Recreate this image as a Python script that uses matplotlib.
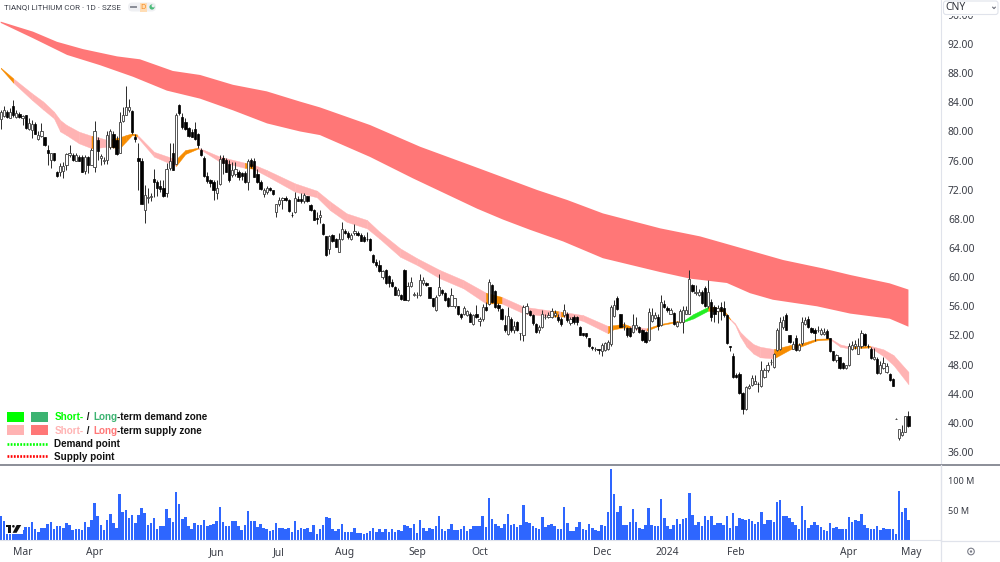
import matplotlib
matplotlib.use("Agg")
import matplotlib.pyplot as plt
import numpy as np
from matplotlib.patches import Rectangle, Circle, FancyBboxPatch, Polygon

# Daily OHLC prices (CNY)
OPENS = [
    81.7,82.1,82.7,81.9,83.5,82.0,82.4,81.9,82.2,80.3,
    80.2,81.0,79.0,79.4,79.2,77.5,76.1,77.0,74.5,74.5,
    74.6,75.4,76.8,76.8,76.0,76.5,76.5,74.6,76.5,75.4,
    75.1,78.8,76.4,75.9,76.1,77.8,79.6,78.8,77.1,81.5,
    82.2,83.0,82.8,79.2,76.3,76.0,69.2,70.8,71.0,73.5,
    73.1,72.5,72.2,71.6,75.0,77.0,75.6,83.6,82.0,81.3,
    80.5,79.9,80.3,79.6,77.4,76.4,73.9,73.3,73.1,71.5,
    72.8,76.3,76.1,75.6,74.0,74.2,74.5,74.3,74.3,73.1,
    76.1,76.0,74.2,73.1,71.4,71.7,72.2,71.9,69.0,70.0,
    70.6,70.8,70.6,68.6,69.0,70.7,70.7,70.4,71.1,69.9,
    69.2,68.1,68.3,67.3,65.6,63.8,65.8,65.3,63.5,65.2,
    66.4,66.1,65.2,66.0,66.1,65.8,65.5,65.3,65.3,63.1,
    62.1,61.7,60.0,61.0,60.2,59.4,58.7,57.6,57.6,61.0,
    56.9,58.8,57.6,57.5,57.6,59.2,59.2,58.6,57.1,55.5,
    57.6,58.2,57.8,57.1,56.0,56.0,56.0,54.9,55.0,54.8,
    55.0,53.6,54.9,54.0,54.2,55.9,56.3,58.9,58.1,56.2,
    55.6,53.4,52.2,54.3,52.7,53.9,52.3,52.0,55.1,55.3,
    54.8,53.6,52.7,53.2,54.5,54.6,54.6,54.8,54.6,54.3,
    54.8,55.0,53.7,54.6,54.6,53.2,52.3,52.3,51.6,50.4,
    50.2,50.1,49.9,50.0,50.2,50.8,54.7,57.1,54.9,53.3,
    53.0,53.0,52.5,53.0,53.2,52.7,52.5,51.4,54.0,54.4,
    54.6,53.4,56.3,55.8,55.0,55.1,53.3,53.9,53.9,55.0,
    55.0,58.9,57.8,57.5,58.0,58.5,56.0,56.6,55.9,55.3,
    55.9,55.7,54.8,50.5,49.2,46.6,46.7,44.1,41.9,44.8,
    45.2,45.4,45.4,45.0,46.3,47.2,48.3,47.7,50.0,50.2,
    53.1,54.8,52.0,50.2,51.6,50.0,50.9,53.6,54.2,53.0,
    52.7,52.7,52.2,52.2,52.6,51.6,49.8,48.6,49.0,48.2,
    47.6,47.9,50.2,50.5,49.5,50.5,52.2,50.6,50.2,48.7,
    48.7,46.8,47.6,47.0,46.7,46.0,40.6,37.9,38.3,38.8,41.0,
]
HIGHS = [
    82.9,83.5,83.0,83.2,84.3,82.9,82.6,82.3,82.3,81.8,
    81.6,81.3,80.0,81.1,79.3,78.1,77.0,77.1,74.6,75.7,
    75.8,77.1,78.1,77.0,77.0,76.7,76.8,76.8,76.6,77.7,
    81.5,79.3,76.9,76.5,80.1,80.3,80.0,79.4,82.6,83.3,
    86.2,84.4,83.0,79.7,78.4,76.3,72.6,72.2,71.5,74.8,
    73.3,73.3,73.3,75.7,78.4,78.4,82.5,83.7,82.5,81.9,
    80.6,80.3,81.3,79.8,77.7,76.6,74.5,73.5,73.3,73.3,
    76.8,76.8,76.4,76.1,75.8,75.8,74.7,74.4,74.6,76.2,
    76.4,76.4,74.8,73.3,72.2,72.5,72.4,72.0,70.1,71.0,
    71.0,71.1,70.7,69.0,71.7,71.1,71.6,71.6,71.2,70.0,
    69.3,69.0,69.2,67.5,65.7,65.8,65.9,65.4,66.0,67.6,
    66.6,66.3,66.0,67.3,66.3,66.1,65.8,66.2,65.4,63.2,
    62.5,62.4,61.0,61.1,60.3,59.7,58.8,58.5,57.7,61.1,
    59.3,60.0,57.9,57.9,60.4,60.0,59.4,58.7,57.2,57.5,
    60.5,58.4,57.9,57.3,58.5,57.2,56.1,55.1,56.0,55.5,
    55.2,54.9,56.2,54.5,56.3,56.6,59.8,59.1,58.3,56.5,
    55.7,54.8,55.9,54.5,54.0,54.0,52.4,56.2,56.5,55.5,
    55.0,53.7,53.5,55.5,55.0,55.2,55.7,55.5,54.9,54.5,
    56.3,55.2,54.5,54.8,54.7,53.3,52.4,52.4,51.7,50.5,
    50.4,50.2,51.0,51.1,51.4,56.2,56.9,57.4,55.0,53.9,
    53.1,53.1,54.9,54.6,53.3,52.9,52.6,55.7,55.7,55.2,
    54.9,57.5,56.8,56.0,55.7,55.2,54.0,55.6,56.0,56.0,
    61.0,59.1,58.9,58.4,58.2,58.8,59.6,57.0,56.2,56.2,
    56.6,56.7,55.0,50.6,49.6,46.9,47.0,44.3,45.0,45.3,
    46.6,46.6,45.6,48.5,47.6,48.3,48.8,49.6,53.0,54.6,
    54.7,55.1,52.1,51.3,52.0,50.9,54.5,54.5,54.7,53.2,
    53.0,53.3,53.0,53.0,52.9,51.7,49.9,49.4,49.1,48.4,
    48.0,51.0,51.3,51.4,51.6,52.7,52.4,50.8,50.4,50.3,
    49.0,48.5,49.0,48.2,46.8,46.1,40.7,39.2,39.7,41.0,41.6,
]
LOWS = [
    80.3,82.0,81.8,81.8,82.0,81.9,81.8,80.9,80.4,80.2,
    79.1,79.6,78.8,79.3,78.0,75.4,75.0,76.0,73.8,73.9,
    73.6,74.7,76.5,76.0,75.9,75.9,74.4,74.2,74.3,75.4,
    74.5,76.1,75.4,75.6,75.6,77.6,77.7,76.8,77.0,81.3,
    82.2,82.7,79.7,78.6,72.0,70.0,67.5,70.2,70.4,71.0,
    71.1,71.7,71.0,71.0,74.7,74.7,75.6,82.3,80.4,80.2,
    79.3,79.2,78.8,77.7,76.6,73.8,72.9,72.4,70.6,70.7,
    72.6,74.2,74.4,73.1,73.8,73.9,73.3,73.4,72.9,71.9,
    75.0,73.7,72.9,72.0,71.0,71.4,71.8,71.3,68.2,69.7,
    69.4,70.4,69.0,68.2,68.8,70.4,70.2,70.2,70.3,69.1,
    67.8,67.3,67.5,65.8,62.9,63.2,64.8,64.1,63.4,65.1,
    65.9,65.3,65.1,65.8,65.6,64.9,64.8,64.9,63.6,62.0,
    61.4,60.7,59.8,59.1,58.6,58.6,57.5,57.4,56.9,56.8,
    56.7,58.6,57.4,57.1,57.4,58.9,58.8,57.1,55.9,55.4,
    57.4,57.6,56.7,55.9,56.0,55.7,54.8,54.3,54.8,54.7,
    53.8,53.4,54.4,53.3,54.0,55.3,56.2,56.4,55.8,55.4,
    54.1,52.5,52.1,52.5,52.4,52.6,51.4,51.3,54.9,54.7,
    53.5,52.4,52.4,53.0,54.3,54.4,54.4,54.6,53.9,53.3,
    54.6,53.9,53.5,53.6,53.5,52.0,51.9,51.6,50.4,50.0,
    49.9,49.5,49.2,49.8,50.0,50.6,54.5,55.5,53.1,52.8,
    51.8,51.8,52.3,52.8,52.3,51.3,51.0,51.2,53.8,54.2,
    52.8,53.3,55.7,55.2,54.9,53.5,53.2,53.7,52.3,54.9,
    54.9,58.0,57.6,57.4,56.3,55.9,55.8,54.0,53.9,53.7,
    54.1,54.6,50.8,49.9,46.2,46.1,44.0,41.2,41.8,44.6,
    45.0,45.3,44.3,44.9,46.1,47.0,48.0,47.6,49.9,50.0,
    52.9,52.7,50.9,50.1,49.9,49.8,50.7,53.5,53.0,52.4,
    51.2,52.5,52.1,52.0,51.6,49.7,48.5,48.4,47.4,47.4,
    47.4,47.8,50.0,50.2,49.4,50.3,50.6,50.3,48.8,48.6,
    46.7,46.7,47.4,46.8,45.8,45.0,40.6,37.6,38.2,38.7,39.5,
]
CLOSES = [
    82.7,83.0,82.0,82.6,82.3,82.5,82.0,82.1,80.5,81.1,
    81.0,79.7,79.5,80.0,78.2,77.0,77.0,76.1,73.9,75.2,
    75.2,76.9,77.1,76.1,76.7,76.0,74.5,76.5,75.4,77.4,
    80.1,77.3,76.6,76.1,79.5,80.0,77.9,76.9,81.3,82.3,
    83.3,83.3,79.9,78.9,76.0,70.1,71.3,71.0,71.2,73.1,
    72.3,72.1,71.1,74.9,76.0,74.7,82.2,82.5,80.6,80.4,
    79.4,79.3,79.0,78.2,76.8,73.9,73.2,72.9,71.9,72.3,
    76.2,75.7,74.5,73.3,74.7,74.9,73.8,73.9,73.0,75.9,
    75.3,73.8,73.1,72.1,71.9,72.2,72.0,71.4,70.0,70.6,
    70.8,70.6,69.1,68.5,70.8,70.5,70.4,71.3,70.4,69.2,
    67.9,68.0,68.6,65.9,63.0,65.6,64.9,64.2,65.2,66.6,
    66.0,65.5,65.8,66.4,65.8,65.0,65.0,65.2,63.7,62.1,
    61.7,60.8,60.9,59.2,59.2,58.8,57.6,58.2,57.0,56.9,
    58.8,59.4,57.7,57.6,59.6,59.6,58.9,57.2,56.0,57.3,
    58.7,57.8,56.8,56.0,57.5,57.1,55.0,54.5,55.7,55.3,
    53.9,54.8,54.6,54.3,55.9,55.5,59.4,56.6,55.9,55.7,
    54.2,52.7,54.7,52.7,53.3,52.8,52.3,55.9,56.0,54.8,
    53.7,52.5,53.2,55.0,54.6,54.8,55.3,55.1,54.1,53.6,
    55.5,54.1,54.3,53.8,53.8,52.1,52.1,51.9,50.5,50.3,
    50.2,50.0,50.7,50.9,51.1,55.9,56.2,55.6,53.2,53.3,
    52.1,51.9,53.4,53.4,52.5,51.4,51.1,55.2,54.8,54.8,
    53.3,56.6,55.9,55.5,55.5,53.6,53.9,55.3,55.5,55.5,
    59.8,58.1,58.0,58.0,56.4,56.0,58.0,54.6,55.0,55.7,
    55.3,54.8,50.9,50.4,46.3,46.3,44.1,41.9,44.9,45.1,
    46.1,45.8,45.3,47.2,47.2,48.0,48.4,49.4,52.7,53.9,
    54.1,52.8,51.1,50.8,50.0,50.7,53.9,54.1,53.1,52.5,
    52.3,52.8,52.7,52.5,51.7,49.8,48.6,49.3,47.5,47.5,
    47.9,50.5,50.7,50.8,50.5,52.3,50.7,50.5,48.9,49.1,
    46.8,47.9,48.2,47.8,45.9,45.1,40.6,39.1,38.8,40.9,39.6,
]

# Daily traded volume, in millions
VOLUMES = [
    41,33,24,20,20,20,20,17,22,22,
    30,18,14,20,20,27,31,18,23,23,
    21,29,25,17,18,19,17,30,22,34,
    62,40,25,17,34,44,28,20,78,47,
    51,37,43,29,43,54,45,25,29,38,
    18,23,23,52,38,30,82,61,35,39,
    24,19,28,26,26,34,24,26,27,32,
    56,31,23,23,32,32,23,17,25,49,
    32,32,22,27,20,19,15,17,28,21,
    21,19,21,14,32,17,21,18,21,13,
    25,11,19,25,39,37,
    19,15,18,27,14,13,13,21,12,12,
    10,12,15,21,14,18,14,18,14,18,
    14,17,15,26,23,21,27,12,34,21,
    15,20,18,23,40,18,16,19,27,17,
    17,18,24,15,18,24,23,23,40,22,
    71,36,27,23,21,27,44,25,27,22,
    26,60,30,29,24,21,19,39,22,25,
    27,23,18,19,56,29,15,15,22,30,
    18,17,27,20,17,15,25,24,47,121,
    78,47,57,26,25,31,53,30,21,18,
    25,55,26,24,23,70,38,24,
    19,25,36,27,36,38,79,43,25,30,
    23,40,34,40,25,29,28,25,41,21,
    46,24,37,36,34,35,32,27,30,48,
    27,34,34,30,64,67,40,40,38,31,
    25,19,57,34,20,25,30,25,22,17,
    16,29,21,22,18,19,18,39,30,34,
    32,44,25,20,19,18,24,17,21,19,
    19,18,11,83,47,54,34,
]

# Long-term supply zone edges: bar number and price
LONG_TOP_BAR = [0,10.3,18,26.3,37.2,44.5,55,63.7,74.2,85,95.6,102,118,134,153,171.4,181,192.4,200,210.7,223.4,238.8,250,262.7,271.4,284,290]
LONG_TOP = [95.07,93.7,92.3,91.3,90.3,89.9,88.3,87.75,86.4,85.5,84.1,83.3,80.88,77.9,74.9,71.96,70.59,68.75,67.9,66.7,65.6,63.72,62.35,61.2,60.3,59.15,58.3]
LONG_BOT_BAR = [0,10.3,21.2,31.7,42.3,53.1,63.7,74.2,85.1,95.6,102,118,131.7,152.2,160.5,169.1,179.7,192.4,210.7,220.2,232,239.4,246.7,260.8,271.4,284,290]
LONG_BOT = [94.9,92.8,90.5,89.1,87.5,85.6,84.5,82.9,81.1,80.0,79.5,76.5,73.56,69.4,67.9,66.5,64.9,62.6,60.7,59.8,59.2,57.8,56.9,56.0,55.0,54.3,53.2]

# Short-term zone edges
SHORT_BAR = [0,4,10,13.6,17,19,21,25,29,30,34,38,40,42,43.5,49,56,59,63,65,70,78,80.5,85,94,101,105.2,110.5,117,121,127.6,133,140.3,147.8,155,160,167,176,178,179,180,186,194,195.7,199,201,206.4,210.6,215,218,221.3,226,227.7,230.9,233,234.6,236.2,238.3,240.5,242.6,247,252.2,255.4,260.7,265,268.2,271.3,277.7,282,285.2,290]
SHORT_TOP = [88.75,87.29,85.23,84.1,82.72,81.57,80.9,79.97,79.4,79.35,78.83,79.2,79.5,79.74,79.6,77.2,76.17,77.45,77.77,77.45,76.54,75.7,75.5,74.7,72.88,71.87,70.4,68.76,67.85,66.24,63.96,62.6,60.98,59.6,57.87,57.3,55.95,55.4,55.35,55.27,55.2,54.8,53.3,53.4,53.6,53.3,52.98,53.56,53.93,54.0,54.94,55.94,55.94,55.58,54.3,53.66,52.5,51.6,50.8,50.45,50.13,50.68,50.86,51.55,51.6,50.77,50.45,50.6,50.09,49.31,47.0]
SHORT_BOT = [88.66,86.7,84.32,83.0,81.8,80.0,79.5,78.37,77.7,77.7,77.91,77.68,78.6,79.51,79.3,76.54,75.26,76.9,77.64,77.2,75.85,75.0,74.9,73.89,71.74,70.96,69.2,67.6,66.7,65.3,62.8,61.67,59.84,58.47,56.4,56.4,55.03,54.6,54.6,54.6,54.6,54.0,52.3,52.84,53.1,53.0,52.66,53.4,53.75,53.84,54.34,55.4,55.3,55.3,54.2,53.47,51.9,50.45,49.5,49.0,48.85,50.08,50.45,51.32,51.46,50.45,50.2,50.36,49.17,47.94,45.3]

# Bars at which the short-term zone changes kind, and the kind from there on
ZONE_START = [0,4,29,30,34,43.5,56,63,78,80.5,155,160,176,178,179,180,194,201,206.4,218,226,233,247,265,271.3,277.7]
ZONE_KIND = list("OLOLOLOLOLOLOLOLOLOGOLOLOL")

ZONE_COLORS = {"O": "#F78C00", "L": "#FFB3B3", "G": "#22EE22"}
LONG_COLOR = "#FF7777"

PRICE_TICKS = list(range(36, 100, 4))
VOLUME_TICKS = [50, 100]
VOLUME_LABELS = ["50 M", "100 M"]
DATE_LABELS = ["Mar", "Apr", "Jun", "Jul", "Aug", "Sep", "Oct", "Dec", "2024", "Feb", "Apr", "May"]
DATE_BARS = [7, 30, 69, 88.7, 110, 133, 153, 192, 213, 235, 271, 291]

TITLE = "TIANQI LITHIUM COR · 1D · SZSE"
FONT = "Noto Sans"
LEGEND_FONT = "Liberation Sans"
TEXT_GREY = "#3A3D46"

W, H = 1000, 562
fig = plt.figure(figsize=(10, 5.62), dpi=100, facecolor="white")

def axes_px(x0, y0, x1, y1):
    """Axes placed by its pixel box, y measured from the top of the figure."""
    return fig.add_axes([x0 / W, 1 - y1 / H, (x1 - x0) / W, (y1 - y0) / H])

bars = np.arange(len(CLOSES))
opens, highs, lows, closes = map(np.array, (OPENS, HIGHS, LOWS, CLOSES))
x_limits = (-0.224, 300.4)

# Price pane
ax = axes_px(0, 0, 941, 465)
ax.set_xlim(*x_limits)
ax.set_ylim(34.22, 98.04)
ax.fill(LONG_TOP_BAR + LONG_BOT_BAR[::-1], LONG_TOP + LONG_BOT[::-1],
        color=LONG_COLOR, lw=0, zorder=1)
for k in range(len(SHORT_BAR) - 1):
    kind = ZONE_KIND[np.searchsorted(ZONE_START, SHORT_BAR[k], side="right") - 1]
    ax.fill_between(SHORT_BAR[k:k + 2], SHORT_TOP[k:k + 2], SHORT_BOT[k:k + 2],
                    color=ZONE_COLORS[kind], lw=0.3, zorder=2 if kind == "L" else 3)

up = closes >= opens
ax.vlines(bars, lows, highs, color="#2A2A2A", lw=0.7, zorder=4)
ax.bar(bars[up], (closes - opens)[up], bottom=opens[up], width=0.72,
       facecolor="white", edgecolor="#4A4A4A", lw=0.65, zorder=5)
ax.bar(bars[~up], (opens - closes)[~up], bottom=closes[~up], width=0.72,
       facecolor="black", edgecolor="black", lw=0.5, zorder=5)

ax.yaxis.tick_right()
ax.set_yticks(PRICE_TICKS)
ax.set_yticklabels([f"{p:.2f}" for p in PRICE_TICKS], fontsize=7.4, family=FONT, color=TEXT_GREY)
ax.tick_params(axis="y", length=0, pad=5)
ax.set_xticks([])
for side in ("top", "left", "bottom"):
    ax.spines[side].set_visible(False)
ax.spines["right"].set_color("#E0E3EB")

# Volume pane
vol_ax = axes_px(0, 466, 941, 540)
vol_ax.set_xlim(*x_limits)
vol_ax.set_ylim(0, 125.4)
vol_ax.bar(bars, VOLUMES, width=0.82, color="#2E66FF", lw=0)
vol_ax.yaxis.tick_right()
vol_ax.set_yticks(VOLUME_TICKS)
vol_ax.set_yticklabels(VOLUME_LABELS, fontsize=6.5, family=FONT, color=TEXT_GREY)
vol_ax.tick_params(axis="y", length=0, pad=5)
vol_ax.set_xticks(DATE_BARS)
vol_ax.set_xticklabels(DATE_LABELS, fontsize=7.4, family=FONT, color=TEXT_GREY)
vol_ax.tick_params(axis="x", length=0, pad=5)
for lab in vol_ax.get_xticklabels():
    if lab.get_text() == "2024":
        lab.set_fontweight("bold")
for side in ("top", "left"):
    vol_ax.spines[side].set_visible(False)
vol_ax.spines["right"].set_color("#E0E3EB")
vol_ax.spines["bottom"].set_color("#E0E3EB")

# Overlay in pixel units for the legend, header and axis furniture
ui = fig.add_axes([0, 0, 1, 1], facecolor="none")
ui.set_xlim(0, W)
ui.set_ylim(H, 0)
ui.axis("off")

ui.plot([0, W], [465.3, 465.3], color="#787B86", lw=1.2, zorder=6)
ui.plot([941, W], [540.7, 540.7], color="#E0E3EB", lw=0.9, zorder=6)
ui.plot([941, 941], [465, H], color="#E0E3EB", lw=0.9, zorder=6)

# Header
ui.text(4, 7.2, TITLE, fontsize=5.75, family="Roboto", color="#3F424C", va="center")
ui.add_patch(FancyBboxPatch((128, 2.5), 28, 9, boxstyle="round,pad=0,rounding_size=4.4",
                            fc="#EFF0F3", ec="none"))
ui.add_patch(Rectangle((139.5, 2.5), 7.5, 9, fc="#FFDDB5", ec="none"))
ui.plot([130.5, 135.5], [7.2, 7.2], color="#8A8D96", lw=1.4)
ui.text(143.2, 7.2, "D", fontsize=5.2, family=FONT, color="#F58A1F", ha="center", va="center", weight="bold")
ui.add_patch(Circle((152, 7), 2.6, fc="#4CBB7A", ec="none"))
ui.add_patch(Circle((153.2, 5.8), 1.6, fc="#EFF0F3", ec="none"))

# Currency selector sits over the clipped top tick label
ui.add_patch(Rectangle((942, 0), 58, 15.5, fc="white", ec="none", zorder=7))
ui.add_patch(FancyBboxPatch((943.5, 1), 54.5, 13.5, boxstyle="round,pad=0,rounding_size=2.5",
                            fc="white", ec="#E0E3EB", lw=0.8, zorder=8))
ui.text(945.5, 8, "CNY", fontsize=7.4, family=FONT, color="#30333C", va="center", zorder=9)
ui.plot([992.7, 994, 995.3], [7.2, 8.6, 7.2], color="#6A6D78", lw=0.8, zorder=9)

# Settings glyph in the corner
ui.add_patch(Circle((971, 551.5), 3.3, fc="none", ec="#7A7D88", lw=0.8))
ui.add_patch(Circle((971, 551.5), 1.2, fc="#7A7D88", ec="none"))

# Logo over the volume bars
ui.add_patch(Rectangle((4.5, 524), 18.5, 10, fc="white", ec="none", zorder=7))
ui.add_patch(Rectangle((5.8, 525), 5.3, 2.3, fc="#111111", ec="none", zorder=8))
ui.add_patch(Rectangle((8, 525), 3.1, 7.8, fc="#111111", ec="none", zorder=8))
ui.add_patch(Circle((13.4, 526.3), 1.3, fc="#111111", ec="none", zorder=8))
ui.add_patch(Polygon([(16.7, 525), (21.2, 525), (16.6, 532.8), (12.6, 532.8)], fc="#111111", ec="none", zorder=8))

# Legend
renderer = fig.canvas.get_renderer()

def text_runs(x, y, runs):
    """Write coloured pieces of one line, each starting where the last one ended."""
    for piece, colour in runs:
        t = ui.text(x, y, piece, fontsize=7.1, family=LEGEND_FONT, weight="bold",
                    color=colour, va="center", zorder=8)
        x += t.get_window_extent(renderer).width + (1.6 if piece.endswith(" ") else 0)

ui.add_patch(Rectangle((7, 411.5), 17, 10.5, fc="#00FF00", ec="none", zorder=8))
ui.add_patch(Rectangle((31, 411.5), 17, 10.5, fc="#3CB371", ec="none", zorder=8))
ui.add_patch(Rectangle((7, 424.5), 17, 10.5, fc="#FFB3B3", ec="none", zorder=8))
ui.add_patch(Rectangle((31, 424.5), 17, 10.5, fc="#FF7777", ec="none", zorder=8))
ui.plot([7, 48], [443.5, 443.5], color="#00FF00", lw=1.9, ls=(0, (0.68, 0.53)), zorder=8)
ui.plot([7, 48], [456, 456], color="#FF0000", lw=1.9, ls=(0, (0.68, 0.53)), zorder=8)
text_runs(54.5, 417.5, [("Short-", "#00FF00"), (" / ", "#111111"), ("Long", "#3CB371"), ("-term demand zone", "#111111")])
text_runs(54.5, 430.5, [("Short-", "#FFB3B3"), (" / ", "#111111"), ("Long", "#FF7777"), ("-term supply zone", "#111111")])
text_runs(54.5, 444, [("Demand point", "#111111")])
text_runs(54.5, 456.5, [("Supply point", "#111111")])

fig.savefig("out.png", dpi=100)
